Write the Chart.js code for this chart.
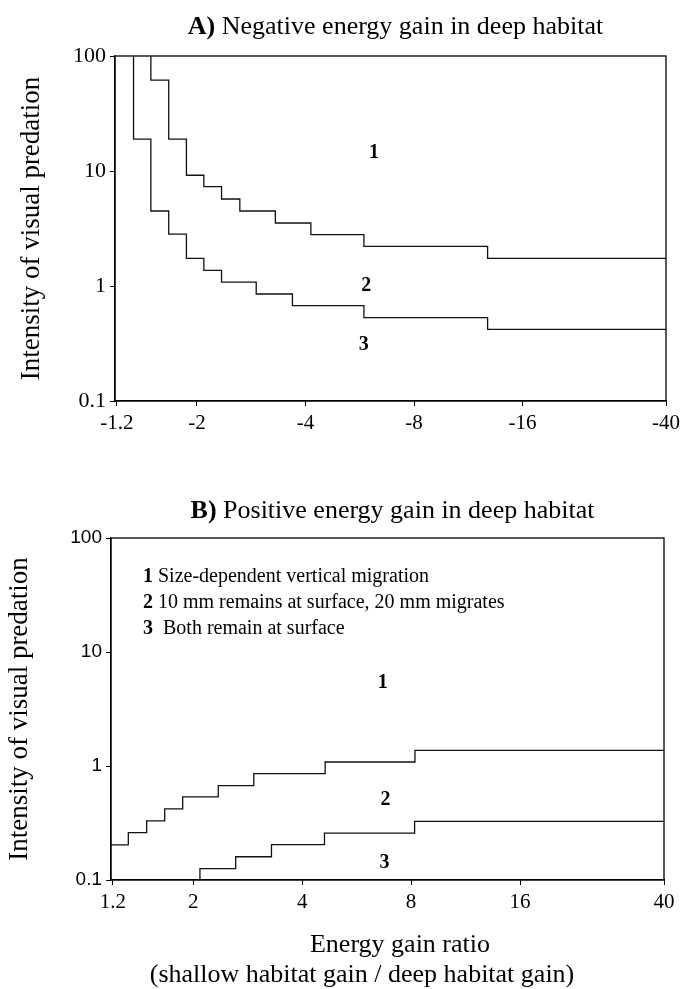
<!DOCTYPE html>
<html>
<head>
<meta charset="utf-8">
<script src="https://cdn.jsdelivr.net/npm/chart.js@4.4.1/dist/chart.umd.min.js"></script>
<style>
  html, body { margin: 0; padding: 0; background: #fff; }
  #wrap { position: relative; width: 685px; height: 989px; overflow: hidden; }
  .panel { position: absolute; left: 0; width: 685px; }
</style>
</head>
<body>
<div id="wrap">
  <div class="panel" style="top:0;height:450px"><canvas id="chartA"></canvas></div>
  <div class="panel" style="top:460px;height:529px"><canvas id="chartB"></canvas></div>
</div>
<script>
// ---- axis ticks ----
const xTickValues = [1.2, 2, 4, 8, 16, 40];
const xTickLabelsA = ['-1.2', '-2', '-4', '-8', '-16', '-40'];
const xTickLabelsB = ['1.2', '2', '4', '8', '16', '40'];
const yTickValues = [0.1, 1, 10, 100];
const yTickLabels = ['0.1', '1', '10', '100'];

// ---- panel A: negative energy gain (x = magnitude of the ratio) ----
// boundary between regions 1 and 2: step positions and the level after each step
const a12StepX = [1.49, 1.67, 1.87, 2.09, 2.34, 2.63, 3.30, 4.14, 5.81, 12.8];
const a12Level = [61.8, 18.9, 9.18, 7.30, 5.71, 4.49, 3.53, 2.80, 2.21, 1.74];
// boundary between regions 2 and 3
const a23StepX = [1.334, 1.49, 1.67, 1.87, 2.09, 2.34, 2.92, 3.68, 5.81, 12.8];
const a23Level = [18.9, 4.49, 2.83, 1.74, 1.37, 1.08, 0.852, 0.674, 0.530, 0.420];

// ---- panel B: positive energy gain ----
const b12StartLevel = 0.203;
const b12StepX = [1.323, 1.487, 1.668, 1.87, 2.345, 2.94, 4.63, 8.2];
const b12Level = [0.26, 0.33, 0.42, 0.535, 0.672, 0.856, 1.084, 1.37];
const b23StepX = [2.087, 2.62, 3.29, 4.61, 8.18];
const b23Level = [0.1257, 0.160, 0.204, 0.258, 0.327];

const X_MIN = 1.185, X_MAX = 40, Y_MIN = 0.1, Y_MAX = 100;

// build a staircase: starts at (startX, startY), steps to level[i] at stepX[i], runs to endX
function staircase(startX, startY, stepX, level, endX) {
  const pts = [{ x: startX, y: startY }];
  stepX.forEach((x, i) => pts.push({ x: x, y: level[i] }));
  pts.push({ x: endX, y: level[level.length - 1] });
  return pts;
}

const SERIF = '"Liberation Serif", "Times New Roman", serif';
const SANS = '"Liberation Sans", Arial, sans-serif';

function lineSet(points) {
  return {
    data: points,
    stepped: 'before',
    borderColor: '#111',
    borderWidth: 1.3,
    pointRadius: 0,
    fill: false,
    tension: 0
  };
}

// draw a run of bold/regular pieces; align 'center' or 'left'
function drawRuns(ctx, runs, x, y, size, align) {
  const widths = runs.map(r => {
    ctx.font = (r.bold ? 'bold ' : '') + size + 'px ' + SERIF;
    return ctx.measureText(r.text).width;
  });
  const total = widths.reduce((a, b) => a + b, 0);
  let cx = align === 'center' ? x - total / 2 : x;
  ctx.textAlign = 'left';
  runs.forEach((r, i) => {
    ctx.font = (r.bold ? 'bold ' : '') + size + 'px ' + SERIF;
    ctx.fillText(r.text, cx, y);
    cx += widths[i];
  });
}

const panelDecor = {
  id: 'panelDecor',
  afterDraw(chart, args, opts) {
    const ctx = chart.ctx, ca = chart.chartArea;
    const xs = chart.scales.x, ys = chart.scales.y;
    ctx.save();
    ctx.strokeStyle = '#000';
    ctx.lineWidth = 1.3;
    ctx.strokeRect(ca.left, ca.top, ca.right - ca.left, ca.bottom - ca.top);
    ctx.fillStyle = '#000';
    ctx.textBaseline = 'alphabetic';
    // panel heading
    drawRuns(ctx, opts.title, (ca.left + ca.right) / 2 + opts.titleShift, opts.titleY, 26, 'center');
    // region numbers
    ctx.font = 'bold 20px ' + SERIF;
    ctx.textAlign = 'center';
    ctx.textBaseline = 'middle';
    opts.regions.forEach(r => {
      ctx.fillText(r.text, xs.getPixelForValue(r.x), ys.getPixelForValue(r.y));
    });
    ctx.textBaseline = 'alphabetic';
    // key
    (opts.key || []).forEach((k, i) => {
      drawRuns(ctx, k, opts.keyX, opts.keyY + i * 26, 20, 'left');
    });
    // x-axis caption lines
    (opts.caption || []).forEach(c => {
      ctx.font = '26px ' + SERIF;
      ctx.textAlign = 'center';
      ctx.fillText(c.text, c.x, c.y);
    });
    ctx.restore();
  }
};

function makeOptions(cfg) {
  return {
    responsive: true,
    maintainAspectRatio: false,
    animation: false,
    layout: { padding: cfg.padding },
    plugins: {
      legend: { display: false },
      tooltip: { enabled: false },
      panelDecor: cfg.decor
    },
    scales: {
      x: {
        type: 'logarithmic',
        min: X_MIN,
        max: X_MAX,
        afterBuildTicks: s => { s.ticks = xTickValues.map(v => ({ value: v })); },
        afterFit: s => { s.height = cfg.xHeight; },
        ticks: {
          autoSkip: false,
          maxRotation: 0,
          padding: 5,
          color: '#000',
          font: { family: SERIF, size: 21 },
          callback: (v, i) => cfg.xLabels[i]
        },
        grid: { drawOnChartArea: false, drawTicks: true, tickLength: 5, color: '#000', lineWidth: 1 },
        border: { display: true, color: '#000', width: 1.3 }
      },
      y: {
        type: 'logarithmic',
        min: Y_MIN,
        max: Y_MAX,
        afterBuildTicks: s => { s.ticks = yTickValues.map(v => ({ value: v })); },
        afterFit: s => { s.width = cfg.yWidth; },
        ticks: {
          autoSkip: false,
          padding: 4,
          color: '#000',
          font: cfg.yTickFont,
          callback: (v, i) => yTickLabels[i]
        },
        grid: { drawOnChartArea: false, drawTicks: true, tickLength: 5, color: '#000', lineWidth: 1 },
        border: { display: true, color: '#000', width: 1.3 },
        title: {
          display: true,
          text: 'Intensity of visual predation',
          color: '#000',
          font: { family: SERIF, size: 27 },
          padding: { top: cfg.yTitlePad, bottom: 0 }
        }
      }
    }
  };
}

new Chart(document.getElementById('chartA'), {
  type: 'line',
  data: {
    datasets: [
      lineSet(staircase(a12StepX[0], Y_MAX, a12StepX, a12Level, X_MAX)),
      lineSet(staircase(a23StepX[0], Y_MAX, a23StepX, a23Level, X_MAX))
    ]
  },
  options: makeOptions({
    padding: { top: 56, right: 14, bottom: 0, left: 0 },
    xHeight: 49,
    yWidth: 115,
    yTitlePad: 16,
    xLabels: xTickLabelsA,
    yTickFont: { family: SERIF, size: 22 },
    decor: {
      title: [{ text: 'A)', bold: true }, { text: ' Negative energy gain in deep habitat', bold: false }],
      titleShift: 5,
      titleY: 34,
      regions: [
        { text: '1', x: 6.2, y: 14.3 },
        { text: '2', x: 5.9, y: 1.0 },
        { text: '3', x: 5.8, y: 0.31 }
      ]
    }
  }),
  plugins: [panelDecor]
});

new Chart(document.getElementById('chartB'), {
  type: 'line',
  data: {
    datasets: [
      lineSet(staircase(X_MIN, b12StartLevel, b12StepX, b12Level, X_MAX)),
      lineSet(staircase(b23StepX[0], Y_MIN, b23StepX, b23Level, X_MAX))
    ]
  },
  options: makeOptions({
    padding: { top: 78, right: 21, bottom: 0, left: 0 },
    xHeight: 109,
    yWidth: 111,
    yTitlePad: 4,
    xLabels: xTickLabelsB,
    yTickFont: { family: SANS, size: 19 },
    decor: {
      title: [{ text: 'B)', bold: true }, { text: ' Positive energy gain in deep habitat', bold: false }],
      titleShift: 5,
      titleY: 58,
      regions: [
        { text: '1', x: 6.68, y: 5.35 },
        { text: '2', x: 6.8, y: 0.50 },
        { text: '3', x: 6.75, y: 0.141 }
      ],
      keyX: 143,
      keyY: 122,
      key: [
        [{ text: '1', bold: true }, { text: ' Size-dependent vertical migration', bold: false }],
        [{ text: '2', bold: true }, { text: ' 10 mm remains at surface, 20 mm migrates', bold: false }],
        [{ text: '3', bold: true }, { text: '  Both remain at surface', bold: false }]
      ],
      caption: [
        { text: 'Energy gain ratio', x: 400, y: 492 },
        { text: '(shallow habitat gain / deep habitat gain)', x: 362, y: 522 }
      ]
    }
  }),
  plugins: [panelDecor]
});
</script>
</body>
</html>
